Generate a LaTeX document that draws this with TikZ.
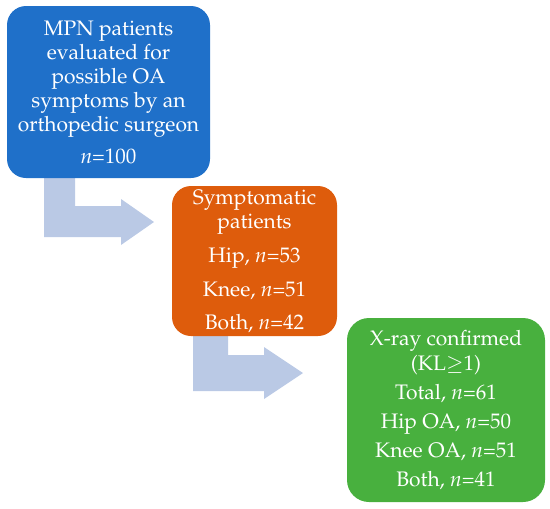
\documentclass[tikz,border=0pt]{standalone}
\usepackage[T1]{fontenc}
\usepackage{mathpazo}
\definecolor{boxblue}{RGB}{31,112,201}
\definecolor{boxorange}{RGB}{222,92,12}
\definecolor{boxgreen}{RGB}{72,176,62}
\definecolor{arrowfill}{RGB}{186,201,229}
\tikzset{
  flowbox/.style={rounded corners=19pt, text=white, align=center,
    inner sep=0pt, font=\fontsize{21}{24}\selectfont},
  blockarrow/.style={fill=arrowfill, draw=none}
}
\begin{document}
\begin{tikzpicture}[x=1pt,y=-1pt]
\useasboundingbox (0,0) rectangle (550,509);
% block arrows
\fill[blockarrow] (44,176) -- (75,176) -- (75,206) -- (121,206) -- (121,199)
  -- (154,222) -- (121,245) -- (121,237) -- (44,237) -- cycle;
\fill[blockarrow] (193,333) -- (228,333) -- (228,355) -- (264,355) -- (264,347)
  -- (303,373) -- (264,399) -- (264,391) -- (193,391) -- cycle;
% boxes
\node[flowbox, fill=boxblue, minimum width=203pt, minimum height=172pt]
  (mpn) at (108.5,92) {MPN patients\\evaluated for\\possible OA\\symptoms by an\\orthopedic surgeon\\[8pt]\textit{n}=100};
\node[flowbox, fill=boxorange, minimum width=165pt, minimum height=150pt]
  (sym) at (254.5,261) {Symptomatic\\patients\\[10pt]Hip, \textit{n}=53\\[10pt]Knee, \textit{n}=51\\[9pt]Both, \textit{n}=42};
\node[flowbox, fill=boxgreen, minimum width=198pt, minimum height=184pt, rounded corners=22pt]
  (xray) at (446,410) {X-ray confirmed\\[1pt](KL$\geq$1)\\[5pt]Total, \textit{n}=61\\[5pt]Hip OA, \textit{n}=50\\[5pt]Knee OA, \textit{n}=51\\[5pt]Both, \textit{n}=41};
\end{tikzpicture}
\end{document}
